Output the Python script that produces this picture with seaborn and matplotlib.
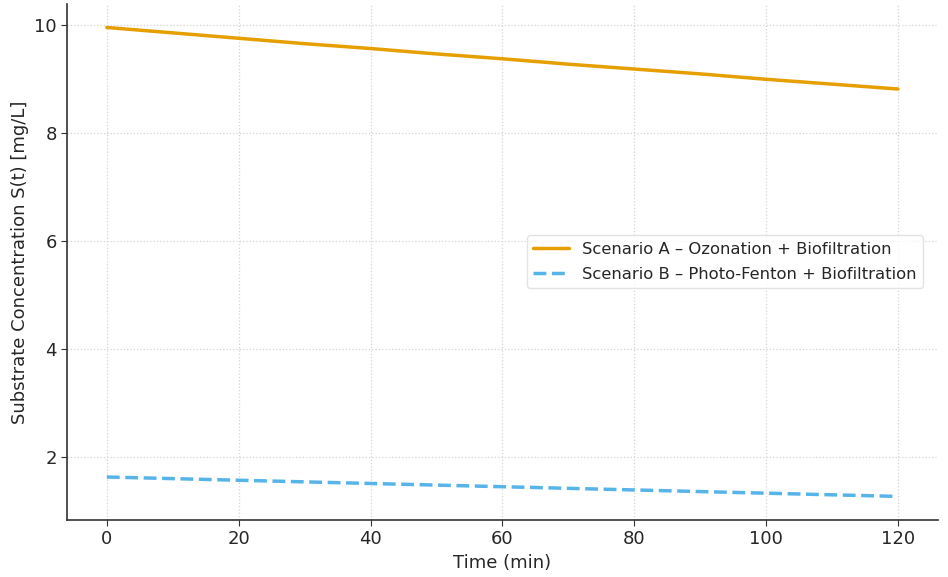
import matplotlib.pyplot as plt
import pandas as pd
import seaborn as sns

TIME = [0, 10, 20, 30, 40, 50, 60, 70, 80, 90, 100, 110, 120]
SCENARIO_A = [9.96, 9.86, 9.76, 9.66, 9.57, 9.47, 9.38, 9.28, 9.19, 9.10, 9.00, 8.91, 8.82]
SCENARIO_B = [1.63, 1.60, 1.57, 1.54, 1.51, 1.48, 1.45, 1.42, 1.39, 1.36, 1.33, 1.30, 1.27]
LABEL_A = 'Scenario A – Ozonation + Biofiltration'
LABEL_B = 'Scenario B – Photo-Fenton + Biofiltration'

ORANGE = '#E69F00'
SKY = '#56B4E9'


def start():
    df = pd.DataFrame({'t': TIME, 'a': SCENARIO_A, 'b': SCENARIO_B})

    sns.set_style('white')
    plt.rcParams['font.family'] = ['DejaVu Sans']

    fig, ax = plt.subplots(figsize=(9.48, 5.77), dpi=100)
    fig.subplots_adjust(left=0.071, right=0.989, top=0.993, bottom=0.099)

    sns.lineplot(x='t', y='a', data=df, ax=ax, color=ORANGE, linewidth=2.5, label=LABEL_A)
    sns.lineplot(x='t', y='b', data=df, ax=ax, color=SKY, linewidth=2.5, linestyle='--', label=LABEL_B)

    ax.grid(True, linestyle=':', color='#d4d4d4', linewidth=0.9)
    ax.set_xticks(range(0, 121, 20))
    ax.set_yticks([2, 4, 6, 8, 10])
    ax.tick_params(axis='both', labelsize=13, length=4, color='#333333', left=True, bottom=True)
    for s in ['top', 'right']:
        ax.spines[s].set_visible(False)
    for s in ['left', 'bottom']:
        ax.spines[s].set_color('#333333')
        ax.spines[s].set_linewidth(1.2)

    ax.set_xlabel('Time (min)', fontsize=13, labelpad=4)
    ax.set_ylabel('Substrate Concentration S(t) [mg/L]', fontsize=13)
    ax.legend(loc='center right', fontsize=11.8, frameon=True, edgecolor='#dddddd',
              bbox_to_anchor=(0.993, 0.5), handlelength=2.2, labelspacing=0.6)

    plt.savefig('out.png', dpi=100)


start()
